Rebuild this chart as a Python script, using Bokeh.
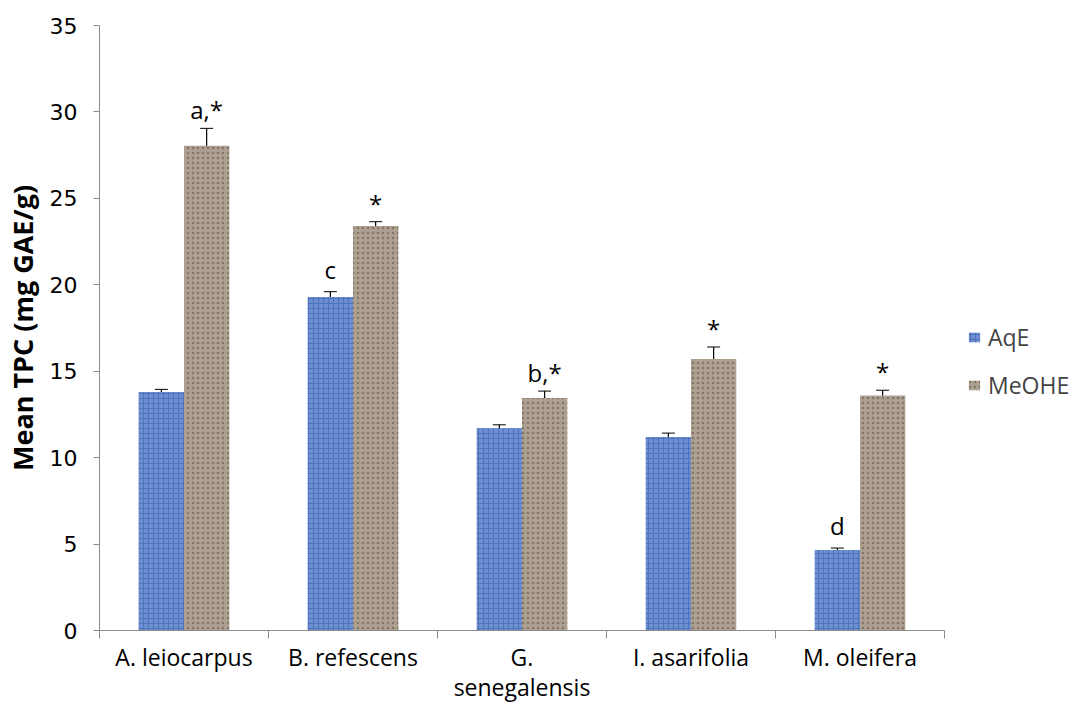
from bokeh.plotting import figure
from bokeh.models import ColumnDataSource, Whisker, FixedTicker, Legend, LegendItem, Range1d
from bokeh.transform import dodge
from bokeh.core.properties import value
from bokeh.embed import file_html
from bokeh.resources import INLINE

species = ["A. leiocarpus", "B. refescens", "G.\nsenegalensis", "I. asarifolia", "M. oleifera"]
aqe = [13.8, 19.3, 11.7, 11.2, 4.65]
aqe_err = [0.15, 0.3, 0.2, 0.22, 0.12]
meohe = [28.05, 23.4, 13.45, 15.7, 13.6]
meohe_err = [1.0, 0.25, 0.4, 0.7, 0.3]
aqe_lab = ["", "c", "", "", "d"]
meohe_lab = ["a,*", "*", "b,*", "*", "*"]
y_ticks = [0, 5, 10, 15, 20, 25, 30, 35]

pos = [i + 0.5 for i in range(len(species))]
src = ColumnDataSource(dict(
    x=pos, aqe=aqe, meohe=meohe,
    aqe_lo=[v - e for v, e in zip(aqe, aqe_err)], aqe_hi=[v + e for v, e in zip(aqe, aqe_err)],
    me_lo=[v - e for v, e in zip(meohe, meohe_err)], me_hi=[v + e for v, e in zip(meohe, meohe_err)],
    aqe_lab=aqe_lab, me_lab=meohe_lab,
))

p = figure(frame_width=845, frame_height=605, x_range=Range1d(0, len(species)), y_range=Range1d(0, 35),
           output_backend="svg", toolbar_location=None,
           min_border_left=98, min_border_right=132, min_border_top=25, min_border_bottom=70)
p.outline_line_color = None
p.xgrid.grid_line_color = None
p.ygrid.grid_line_color = None
p.background_fill_color = "white"
p.border_fill_color = "white"

BW = 0.268
blue = p.vbar(x=dodge("x", -BW / 2), top="aqe", width=BW, source=src,
              fill_color="#6d90d4", line_color=None,
              hatch_pattern="cross", hatch_color="#2f4f96", hatch_alpha=0.45, hatch_scale=5, hatch_weight=1.2)
brown = p.vbar(x=dodge("x", BW / 2), top="meohe", width=BW, source=src,
               fill_color="#aea091", line_color=None,
               hatch_pattern="dot", hatch_color="#5e5246", hatch_alpha=0.55, hatch_scale=5, hatch_weight=1.0)

for lo, hi, off in (("aqe_lo", "aqe_hi", -BW / 2), ("me_lo", "me_hi", BW / 2)):
    w = Whisker(source=src, base=dodge("x", off), lower=lo, upper=hi, line_color="black", line_width=1.2)
    w.upper_head.size = 13
    w.lower_head.size = 13
    w.upper_head.line_color = "black"
    w.lower_head.line_color = "black"
    p.add_layout(w)

p.text(x=dodge("x", -BW / 2), y="aqe_hi", text="aqe_lab", source=src, text_align="center",
       text_baseline="bottom", y_offset=-6, text_font=value("Open Sans"), text_font_size="24px", text_color="black")
p.text(x=dodge("x", BW / 2), y="me_hi", text="me_lab", source=src, text_align="center",
       text_baseline="bottom", y_offset=-2, text_font=value("Open Sans"), text_font_size="24px", text_color="black")

# x axis
xa = p.xaxis[0]
xa.ticker = FixedTicker(ticks=pos, minor_ticks=list(range(len(species) + 1)))
xa.major_label_overrides = {pv: s for pv, s in zip(pos, species)}
xa.major_tick_line_color = None
xa.major_tick_out = 0
xa.major_tick_in = 0
xa.minor_tick_out = 8
xa.minor_tick_in = 0
xa.minor_tick_line_color = "#8c8c8c"
xa.axis_line_color = "#8c8c8c"
xa.major_label_standoff = 2
xa.major_label_text_font = "Open Sans"
xa.major_label_text_font_size = "23px"
xa.major_label_text_line_height = 0.95
xa.major_label_text_color = "black"

# y axis
ya = p.yaxis[0]
ya.ticker = FixedTicker(ticks=y_ticks)
ya.minor_tick_line_color = None
ya.major_tick_out = 6
ya.major_tick_in = 0
ya.major_tick_line_color = "#8c8c8c"
ya.axis_line_color = "#8c8c8c"
ya.major_label_standoff = 16
ya.major_label_text_font = "DejaVu Sans"
ya.major_label_text_font_size = "22px"
ya.major_label_text_color = "black"
ya.axis_label = "Mean TPC (mg GAE/g)"
ya.axis_label_text_font = "Open Sans"
ya.axis_label_text_font_style = "bold"
ya.axis_label_text_font_size = "27px"
ya.axis_label_text_color = "black"
ya.axis_label_standoff = 6

legend = Legend(items=[LegendItem(label="AqE", renderers=[blue]),
                       LegendItem(label="MeOHE", renderers=[brown])],
                location=(23, 229), border_line_color=None, background_fill_alpha=0,
                label_text_font="Open Sans", label_text_font_size="23px",
                glyph_width=14, glyph_height=12, spacing=16, label_standoff=7, margin=0, padding=0)
p.add_layout(legend, "right")

open("out.html", "w").write(file_html(p, INLINE))
